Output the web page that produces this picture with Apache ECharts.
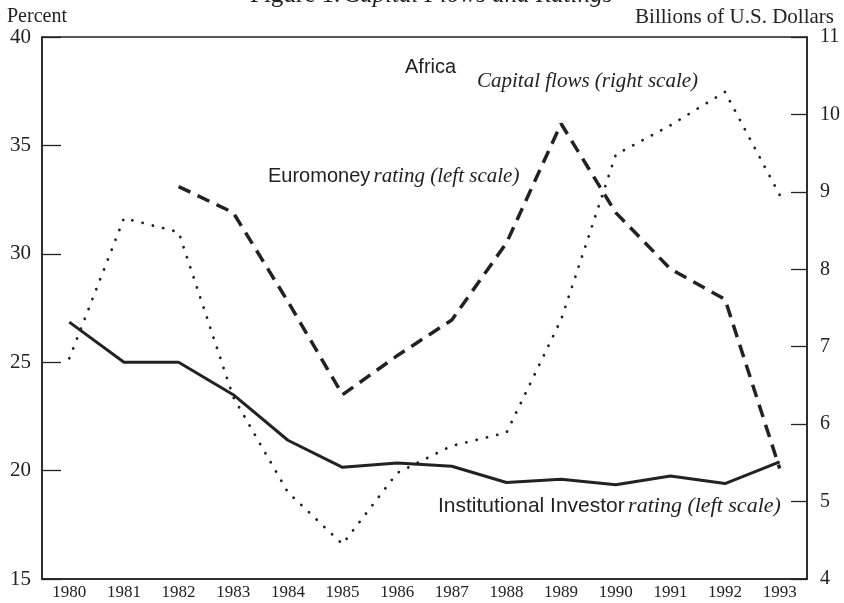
<!DOCTYPE html>
<html>
<head>
<meta charset="utf-8">
<script src="https://cdn.jsdelivr.net/npm/echarts@6/dist/echarts.min.js"></script>
<style>
  html, body { margin: 0; padding: 0; background: #fff; }
  #chart { width: 844px; height: 603px; }
</style>
</head>
<body>
<div id="chart"></div>
<script>
  const years = ["1980", "1981", "1982", "1983", "1984", "1985", "1986", "1987", "1988", "1989", "1990", "1991", "1992", "1993"];
  const leftTicks = [15, 40, 5];
  const rightTicks = [4, 11, 1];

  // Institutional Investor rating, left scale (percent)
  const institutional = [26.85, 25.0, 25.0, 23.5, 21.4, 20.15, 20.35, 20.2, 19.45, 19.6, 19.35, 19.75, 19.4, 20.4];
  // Euromoney rating, left scale (percent)
  const euromoney = [null, null, 33.1, 31.9, 27.8, 23.5, 25.3, 26.95, 30.5, 36.0, 31.9, 29.3, 27.9, 20.1];
  // Capital flows, right scale (billions of U.S. dollars)
  const capitalFlows = [6.85, 8.66, 8.48, 6.35, 5.12, 4.45, 5.37, 5.72, 5.89, 7.35, 9.48, 9.86, 10.29, 8.96];

  const ink = "#222";
  const serif = "'Liberation Serif', 'DejaVu Serif', serif";
  const sans = "'Liberation Sans', 'DejaVu Sans', sans-serif";

  const chart = echarts.init(document.getElementById("chart"));

  const option = {
    animation: false,
    backgroundColor: "#fff",
    grid: {
      left: 42, right: 37, top: 37, bottom: 24,
      show: true, borderColor: ink, borderWidth: 1.5, backgroundColor: "transparent",
    },
    xAxis: {
      type: "category",
      data: years,
      boundaryGap: true,
      axisLine: { lineStyle: { color: ink, width: 1.5 } },
      axisTick: { inside: true, length: 11, alignWithLabel: false, lineStyle: { color: ink, width: 1.3 } },
      axisLabel: { color: ink, fontFamily: serif, fontSize: 17, margin: 5 },
      splitLine: { show: false },
    },
    yAxis: [
      {
        type: "value",
        min: leftTicks[0], max: leftTicks[1], interval: leftTicks[2],
        axisLine: { show: true, lineStyle: { color: ink, width: 1.5 } },
        axisTick: { show: true, inside: true, length: 19, lineStyle: { color: ink, width: 1.3 } },
        axisLabel: { color: ink, fontFamily: serif, fontSize: 21, margin: 11 },
        splitLine: { show: false },
      },
      {
        type: "value",
        position: "right",
        min: rightTicks[0], max: rightTicks[1], interval: rightTicks[2],
        axisLine: { show: true, lineStyle: { color: ink, width: 1.5 } },
        axisTick: { show: true, inside: true, length: 16, lineStyle: { color: ink, width: 1.3 } },
        axisLabel: { color: ink, fontFamily: serif, fontSize: 20, margin: 13 },
        splitLine: { show: false },
      },
    ],
    graphic: [
      { type: "text", left: 250, top: -17, style: {
        text: "{n|Figure 1.} {i|Capital Flows and Ratings}",
        rich: { n: { fill: ink, font: "25px " + serif }, i: { fill: ink, font: "italic 25px " + serif } } } },
      { type: "text", left: 7, top: 7, style: { text: "Percent", fill: ink, font: "20px " + serif } },
      { type: "text", right: 10, top: 7, style: { text: "Billions of U.S. Dollars", fill: ink, font: "21px " + serif } },
      { type: "text", left: 405, top: 57, style: { text: "Africa", fill: ink, font: "20px " + sans } },
      { type: "text", left: 477, top: 71, style: { text: "Capital flows (right scale)", fill: ink, font: "italic 21px " + serif } },
      { type: "text", left: 268, top: 166, style: {
        text: "{n|Euromoney} {i|rating (left scale)}",
        rich: { n: { fill: ink, font: "20px " + sans }, i: { fill: ink, font: "italic 21px " + serif } } } },
      { type: "text", left: 438, top: 495, style: {
        text: "{n|Institutional Investor} {i|rating (left scale)}",
        rich: { n: { fill: ink, font: "21px " + sans }, i: { fill: ink, font: "italic 22px " + serif } } } },
    ],
    series: [
      {
        name: "Institutional Investor rating",
        type: "line",
        yAxisIndex: 0,
        data: institutional,
        symbol: "none",
        lineStyle: { color: ink, width: 3 },
      },
      {
        name: "Euromoney rating",
        type: "line",
        yAxisIndex: 0,
        data: euromoney,
        symbol: "none",
        connectNulls: false,
        lineStyle: { color: ink, width: 3.5, type: [13, 8] },
      },
      {
        name: "Capital flows",
        type: "line",
        yAxisIndex: 1,
        data: capitalFlows,
        symbol: "none",
        lineStyle: { color: ink, width: 2.8, type: [0.1, 10.5], cap: "round" },
      },
    ],
  };

  chart.setOption(option);
  window.addEventListener("resize", () => chart.resize());
</script>
</body>
</html>
